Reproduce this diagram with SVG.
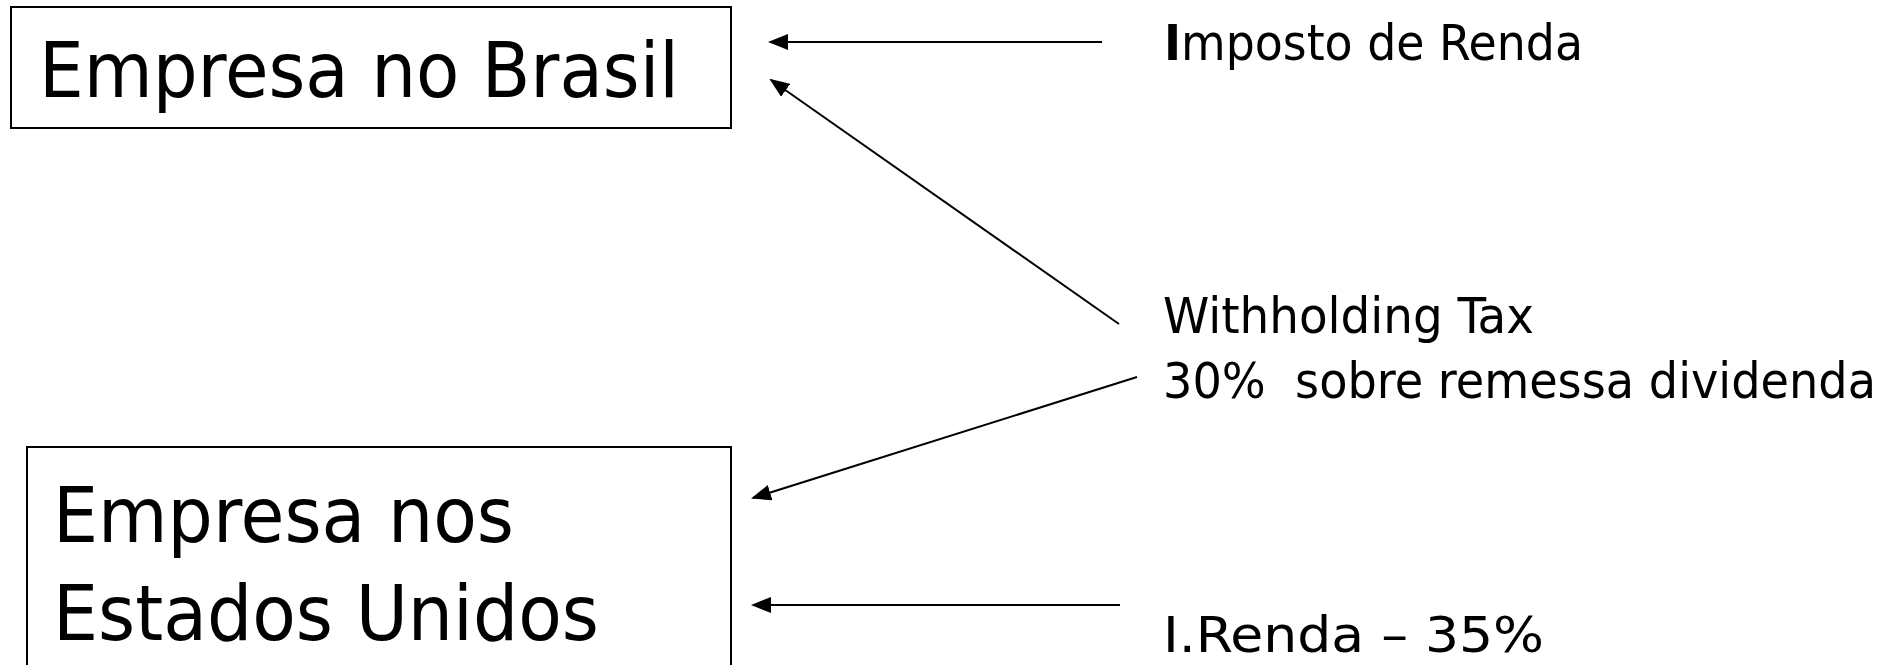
<svg xmlns="http://www.w3.org/2000/svg" width="1900" height="665" viewBox="0 0 1900 665">
<style>
.box{fill:#fff;stroke:#000;stroke-width:2}
.big{font-family:"DejaVu Sans Condensed","DejaVu Sans","Liberation Sans",sans-serif;font-stretch:condensed;font-size:77px;fill:#000}
.lbl{font-family:"DejaVu Sans Condensed","DejaVu Sans","Liberation Sans",sans-serif;font-stretch:condensed;font-size:50px;fill:#000}
.con{stroke:#000;stroke-width:2;fill:none;marker-end:url(#ah)}
</style>
<defs>
<marker id="ah" markerWidth="10" markerHeight="8" refX="9" refY="4" orient="auto" markerUnits="strokeWidth">
<path d="M0,0 L10,4 L0,8 Z" fill="#000"/>
</marker>
</defs>
<rect width="1900" height="665" fill="#fff"/>
<g id="node-brasil">
<rect class="box" x="11" y="7" width="720" height="121"/>
<text class="big" x="39" y="97" textLength="640" lengthAdjust="spacingAndGlyphs">Empresa no Brasil</text>
</g>
<g id="node-eua">
<rect class="box" x="27" y="447" width="704" height="260"/>
<text class="big" x="53" y="542" textLength="461" lengthAdjust="spacingAndGlyphs">Empresa nos</text>
<text class="big" x="53" y="640" textLength="546" lengthAdjust="spacingAndGlyphs">Estados Unidos</text>
</g>
<g id="label-ir">
<text class="lbl" x="1164" y="60" textLength="419" lengthAdjust="spacingAndGlyphs"><tspan font-weight="bold">I</tspan>mposto de Renda</text>
</g>
<g id="label-wht">
<text class="lbl" x="1163" y="333" textLength="371" lengthAdjust="spacingAndGlyphs">Withholding Tax</text>
<text class="lbl" x="1163" y="398" textLength="713" lengthAdjust="spacingAndGlyphs" xml:space="preserve">30%  sobre remessa dividenda</text>
</g>
<g id="label-ir35">
<text class="lbl" x="1163" y="652" textLength="381" lengthAdjust="spacingAndGlyphs">I.Renda – 35%</text>
</g>
<g id="connectors">
<line class="con" x1="1102" y1="42" x2="770" y2="42"/>
<line class="con" x1="1119" y1="324" x2="771" y2="80"/>
<line class="con" x1="1137" y1="377" x2="753" y2="498"/>
<line class="con" x1="1120" y1="605" x2="753" y2="605"/>
</g>
</svg>
